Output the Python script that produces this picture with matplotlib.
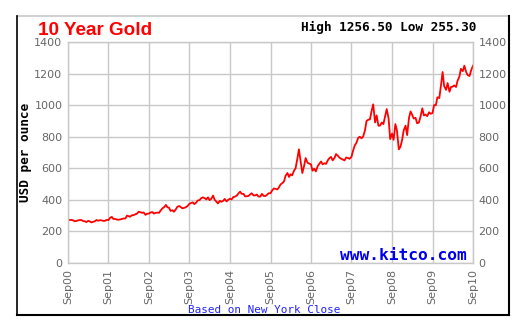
import matplotlib
matplotlib.use('Agg')
import matplotlib.pyplot as plt
from matplotlib.lines import Line2D
import pandas as pd

# semi-monthly gold prices (USD/oz), 1st and 15th, Sep 2000 - Sep 2010
prices_2000 = [277, 272, 273, 271, 264, 266, 270, 272]
prices_2001 = [272, 266, 264, 259, 267, 264, 257, 261, 264, 272, 268, 271,
               270, 267, 267, 273, 272, 286, 292, 279, 279, 275, 274, 276]
prices_2002 = [279, 282, 282, 300, 297, 293, 303, 303, 309, 312, 325, 322,
               318, 320, 305, 312, 313, 320, 323, 313, 318, 319, 318, 332]
prices_2003 = [347, 353, 368, 353, 350, 330, 334, 325, 340, 356, 361, 354,
               346, 349, 354, 361, 375, 380, 384, 373, 383, 396, 398, 410]
prices_2004 = [416, 411, 403, 416, 398, 406, 427, 401, 389, 377, 394, 388,
               393, 406, 390, 400, 407, 403, 418, 420, 427, 440, 452, 438]
prices_2005 = [438, 422, 423, 425, 434, 442, 428, 428, 434, 421, 421, 438,
               425, 424, 432, 442, 442, 459, 472, 470, 466, 478, 498, 505]
prices_2006 = [517, 553, 570, 545, 562, 555, 585, 600, 660, 720, 640, 570,
               615, 665, 635, 630, 625, 585, 598, 580, 615, 628, 643, 625]
prices_2007 = [632, 628, 652, 665, 672, 650, 665, 690, 680, 668, 660, 655,
               650, 668, 665, 660, 672, 710, 745, 760, 793, 800, 790, 800]
prices_2008 = [840, 900, 908, 910, 965, 1005, 890, 935, 870, 870, 890, 880,
               930, 975, 915, 785, 820, 780, 880, 840, 720, 735, 780, 840]
prices_2009 = [870, 810, 920, 960, 940, 915, 920, 885, 890, 925, 980, 935,
               940, 930, 955, 945, 950, 1000, 1000, 1050, 1045, 1118, 1210, 1120]
prices_2010 = [1097, 1140, 1085, 1115, 1117, 1125, 1115, 1155, 1180, 1230,
               1215, 1250, 1210, 1190, 1185, 1220, 1250]

prices = (prices_2000 + prices_2001 + prices_2002 + prices_2003 + prices_2004 +
          prices_2005 + prices_2006 + prices_2007 + prices_2008 + prices_2009 +
          prices_2010)
dates = pd.date_range('2000-09-01', periods=len(prices), freq='SMS')

tick_labels = ['Sep00', 'Sep01', 'Sep02', 'Sep03', 'Sep04', 'Sep05',
               'Sep06', 'Sep07', 'Sep08', 'Sep09', 'Sep10']
tick_dates = pd.to_datetime(['%d-09-01' % y for y in range(2000, 2011)])
y_ticks = [0, 200, 400, 600, 800, 1000, 1200, 1400]

W, H = 522, 327
fig = plt.figure(figsize=(W / 100, H / 100), dpi=100)
fig.patch.set_facecolor('white')

# outer frame
fig.add_artist(Line2D([17 / W, 509 / W], [1 - 16 / H, 1 - 16 / H], color='#c8c8c8', lw=1.2))
fig.add_artist(Line2D([17 / W, 17 / W], [1 - 16 / H, 1 - 315 / H], color='black', lw=1.2))
fig.add_artist(Line2D([509 / W, 509 / W], [1 - 16 / H, 1 - 315 / H], color='black', lw=1.5))
fig.add_artist(Line2D([17 / W, 509 / W], [1 - 315 / H, 1 - 315 / H], color='black', lw=1.5))

ax = fig.add_axes([68 / W, 1 - 263 / H, 405 / W, 221 / H])
ax.plot(dates, prices, color='#ff0000', lw=1.3)

ax.set_xlim(tick_dates[0], tick_dates[-1])
ax.set_ylim(0, 1400)
ax.set_xticks(tick_dates)
ax.set_xticklabels(tick_labels, rotation=90, fontsize=8, color='#666666')
ax.set_yticks(y_ticks)
ax.set_yticklabels([str(v) for v in y_ticks], fontsize=8, color='#666666')
ax.tick_params(axis='both', length=0, pad=4)
ax.tick_params(axis='y', labelright=True, right=False)
ax.grid(True, color='#c8c8c8', lw=1)
ax.set_axisbelow(True)
for s in ax.spines.values():
    s.set_color('#c8c8c8')
    s.set_linewidth(1)

ax.set_ylabel('USD per ounce', family='DejaVu Sans Mono', fontweight='bold',
              fontsize=9.2, color='black', labelpad=2)

fig.text(38 / W, 1 - 35 / H, '10 Year Gold', color='#ff0000', fontsize=13.6,
         fontweight='bold', family='Liberation Sans', ha='left', va='baseline')
fig.text(476 / W, 1 - 31 / H, 'High 1256.50 Low 255.30', color='black',
         fontsize=9.2, fontweight='bold', family='DejaVu Sans Mono',
         ha='right', va='baseline')
fig.text(467 / W, 1 - 260 / H, 'www.kitco.com', color='#0000ee', fontsize=11.7,
         fontweight='bold', family='DejaVu Sans Mono', ha='right', va='baseline')
fig.text(264.5 / W, 1 - 313 / H, 'Based on New York Close', color='#2222ff',
         fontsize=7.9, family='DejaVu Sans Mono', ha='center', va='baseline')

fig.savefig('out.png', dpi=100)
